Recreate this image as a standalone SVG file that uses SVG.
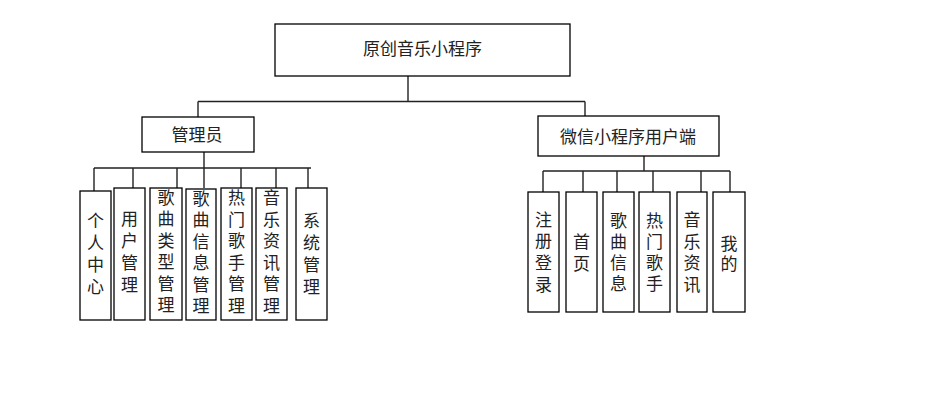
<svg xmlns="http://www.w3.org/2000/svg" width="942" height="417" viewBox="0 0 942 417">
<style>
.box{fill:#fff;stroke:#000;stroke-width:1.3}
.ln{stroke:#222;stroke-width:1.4;fill:none}
text{font-family:"Noto Sans CJK SC","Liberation Sans",sans-serif;font-size:17px;fill:#222;text-anchor:middle}
</style>
<rect width="942" height="417" fill="#fff"/>
<g id="connectors">
<path class="ln" d="M408 76V101.5M198 101.5H585M198 101.5V117M585 101.5V116"/>
<path class="ln" d="M204 152V188M94 168H311M94 168V191M133 168V188M177 168V188M241 168V188M276 168V188M308 168V188"/>
<path class="ln" d="M644 156V171M543 171H730M543 171V192M583 171V192M617 171V192M653 171V192M701 171V192M730 171V192"/>
</g>
<g id="root"><rect class="box" x="275" y="24" width="295" height="52"/><text x="422.5" y="54.5">原创音乐小程序</text></g>
<g id="admin"><rect class="box" x="142" y="117" width="112" height="35"/><text x="197" y="141">管理员</text></g>
<g id="client"><rect class="box" x="538" y="116" width="181" height="40"/><text x="628" y="142.5">微信小程序用户端</text></g>
<g id="a1"><rect class="box" x="80" y="191" width="31" height="129"/><text><tspan x="95.5" y="227">个</tspan><tspan x="95.5" dy="22">人</tspan><tspan x="95.5" dy="22">中</tspan><tspan x="95.5" dy="22">心</tspan></text></g>
<g id="a2"><rect class="box" x="114" y="188" width="31" height="132"/><text><tspan x="129.5" y="225">用</tspan><tspan x="129.5" dy="22">户</tspan><tspan x="129.5" dy="22">管</tspan><tspan x="129.5" dy="22">理</tspan></text></g>
<g id="a3"><rect class="box" x="150" y="188" width="32" height="132"/><text><tspan x="166" y="203.5">歌</tspan><tspan x="166" dy="21.5">曲</tspan><tspan x="166" dy="21.5">类</tspan><tspan x="166" dy="21.5">型</tspan><tspan x="166" dy="21.5">管</tspan><tspan x="166" dy="21.5">理</tspan></text></g>
<g id="a4"><rect class="box" x="186" y="189" width="30" height="131"/><text><tspan x="201" y="204.5">歌</tspan><tspan x="201" dy="21.5">曲</tspan><tspan x="201" dy="21.5">信</tspan><tspan x="201" dy="21.5">息</tspan><tspan x="201" dy="21.5">管</tspan><tspan x="201" dy="21.5">理</tspan></text></g>
<g id="a5"><rect class="box" x="221" y="188" width="31" height="132"/><text><tspan x="236.5" y="204">热</tspan><tspan x="236.5" dy="21.5">门</tspan><tspan x="236.5" dy="21.5">歌</tspan><tspan x="236.5" dy="21.5">手</tspan><tspan x="236.5" dy="21.5">管</tspan><tspan x="236.5" dy="21.5">理</tspan></text></g>
<g id="a6"><rect class="box" x="256" y="188" width="31" height="132"/><text><tspan x="271.5" y="204">音</tspan><tspan x="271.5" dy="21.5">乐</tspan><tspan x="271.5" dy="21.5">资</tspan><tspan x="271.5" dy="21.5">讯</tspan><tspan x="271.5" dy="21.5">管</tspan><tspan x="271.5" dy="21.5">理</tspan></text></g>
<g id="a7"><rect class="box" x="296" y="188" width="31" height="132"/><text><tspan x="311.5" y="226.5">系</tspan><tspan x="311.5" dy="22">统</tspan><tspan x="311.5" dy="22">管</tspan><tspan x="311.5" dy="22">理</tspan></text></g>
<g id="c1"><rect class="box" x="528" y="192" width="31" height="120"/><text><tspan x="543.5" y="225.5">注</tspan><tspan x="543.5" dy="21.7">册</tspan><tspan x="543.5" dy="21.7">登</tspan><tspan x="543.5" dy="21.7">录</tspan></text></g>
<g id="c2"><rect class="box" x="566" y="192" width="31" height="120"/><text><tspan x="581.5" y="248">首</tspan><tspan x="581.5" dy="21.7">页</tspan></text></g>
<g id="c3"><rect class="box" x="603" y="192" width="31" height="120"/><text><tspan x="618.5" y="226.5">歌</tspan><tspan x="618.5" dy="21.3">曲</tspan><tspan x="618.5" dy="21.3">信</tspan><tspan x="618.5" dy="21.3">息</tspan></text></g>
<g id="c4"><rect class="box" x="639" y="192" width="31" height="120"/><text><tspan x="654.5" y="226.5">热</tspan><tspan x="654.5" dy="21.3">门</tspan><tspan x="654.5" dy="21.3">歌</tspan><tspan x="654.5" dy="21.3">手</tspan></text></g>
<g id="c5"><rect class="box" x="677" y="192" width="30" height="120"/><text><tspan x="692" y="226">音</tspan><tspan x="692" dy="21.5">乐</tspan><tspan x="692" dy="21.5">资</tspan><tspan x="692" dy="21.5">讯</tspan></text></g>
<g id="c6"><rect class="box" x="713" y="192" width="32" height="120"/><text><tspan x="729" y="249.5">我</tspan><tspan x="729" dy="20">的</tspan></text></g>
</svg>
